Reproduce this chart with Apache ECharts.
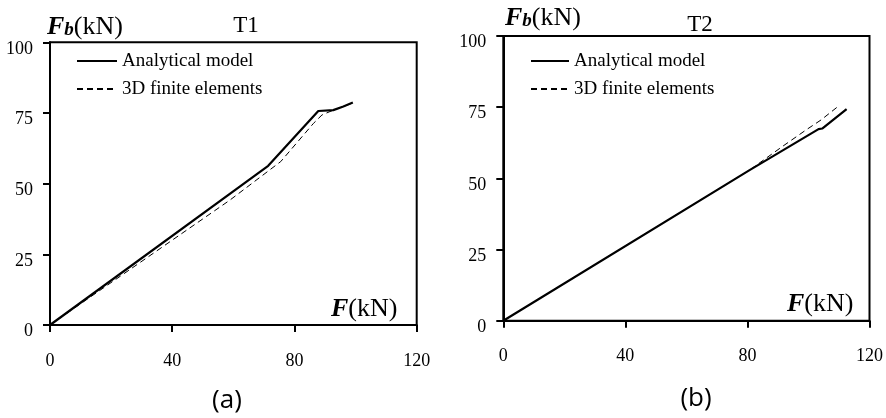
<!DOCTYPE html>
<html>
<head>
<meta charset="utf-8">
<script src="https://cdn.jsdelivr.net/npm/echarts@6/dist/echarts.min.js"></script>
<style>html,body{margin:0;padding:0;background:#fff}#c{width:886px;height:418px}</style>
</head>
<body>
<div id="c"></div>
<script>
// ---- data ----
const xTicks = [0, 40, 80, 120];
const yTicks = [0, 25, 50, 75, 100];
const seriesNames = ['Analytical model', '3D finite elements'];
// (a) T1
const t1AnalyticalF  = [0, 71.4, 87.8, 92.7, 96.0, 99.1];
const t1AnalyticalFb = [0, 56.3, 75.7, 76.0, 77.3, 78.7];
const t1FEMF  = [0, 58.9, 75.5, 86.2, 89.0, 92.7, 98.8];
const t1FEMFb = [0, 44.2, 57.8, 71.3, 74.3, 76.0, 78.4];
// (b) T2
const t2AnalyticalF  = [0, 80.7, 103.3, 104.5, 112.5];
const t2AnalyticalFb = [0, 52.9, 67.3, 67.5, 74.3];
const t2FEMF  = [0, 80.7, 91.6, 99.2, 104.1, 109.4];
const t2FEMFb = [0, 52.9, 61.3, 67.0, 70.5, 75.0];
const panelTitles = ['T1', 'T2'];
const panelLabels = ['(a)', '(b)'];

const zip = (a, b) => a.map((v, i) => [v, b[i]]);
const SERIF = 'Liberation Serif';

function xAxis(gi) {
  return {
    type: 'value', gridIndex: gi, min: xTicks[0], max: xTicks[xTicks.length - 1], interval: 40,
    axisLine: { show: true, onZero: false, lineStyle: { color: '#000', width: 2 } },
    axisTick: { show: true, length: 7, lineStyle: { color: '#000', width: 2 } },
    axisLabel: { color: '#000', fontFamily: SERIF, fontSize: 18, margin: 27 },
    splitLine: { show: false }
  };
}
function yAxis(gi) {
  return {
    type: 'value', gridIndex: gi, min: yTicks[0], max: yTicks[yTicks.length - 1], interval: 25,
    axisLine: { show: true, onZero: false, lineStyle: { color: '#000', width: 2 } },
    axisTick: { show: true, length: 7, lineStyle: { color: '#000', width: 2 } },
    axisLabel: { color: '#000', fontFamily: SERIF, fontSize: 18, margin: 17, verticalAlign: 'top', lineHeight: 13 },
    splitLine: { show: false }
  };
}
const solid = { color: '#000', width: 2.2, type: 'solid' };
const dashed = { color: '#000', width: 1, type: [6, 4] };
function line(name, data, gi, style) {
  return { name, type: 'line', xAxisIndex: gi, yAxisIndex: gi, data, symbol: 'none',
    lineStyle: style, itemStyle: { color: '#000' }, animation: false, z: 3 };
}
function legend(left, w) {
  return {
    left, top: 51, orient: 'vertical', itemWidth: w, itemHeight: 14, itemGap: 8, padding: 0,
    data: seriesNames,
    itemStyle: { opacity: 0 },
    textStyle: { color: '#000', fontFamily: SERIF, fontSize: 19, lineHeight: 20 },
    selectedMode: false
  };
}
function fbLabel(x, y) {
  return { type: 'text', left: x, top: y, style: {
    text: '{F|F}{b|b}{k|(kN)}', fill: '#000',
    rich: {
      F: { fontFamily: SERIF, fontSize: 26, fontWeight: 'bold', fontStyle: 'italic', lineHeight: 28, verticalAlign: 'bottom' },
      b: { fontFamily: SERIF, fontSize: 19, fontWeight: 'bold', fontStyle: 'italic', lineHeight: 19, verticalAlign: 'bottom' },
      k: { fontFamily: SERIF, fontSize: 26, lineHeight: 28, verticalAlign: 'bottom' }
    } } };
}
function fLabel(x, y) {
  return { type: 'text', left: x, top: y, style: {
    text: '{F|F}{k|(kN)}', fill: '#000',
    rich: {
      F: { fontFamily: SERIF, fontSize: 26, fontWeight: 'bold', fontStyle: 'italic', lineHeight: 28 },
      k: { fontFamily: SERIF, fontSize: 26, lineHeight: 28 }
    } } };
}
function centerText(text, x, y, size, family) {
  return { type: 'text', x, y, style: { text, fill: '#000', fontFamily: family, fontSize: size, align: 'center', verticalAlign: 'middle' } };
}

const chart = echarts.init(document.getElementById('c'), null, { renderer: 'canvas' });
chart.setOption({
  animation: false,
  backgroundColor: '#fff',
  grid: [
    { left: 50, right: 469.3, top: 42.3, bottom: 93, show: true, borderColor: '#000', borderWidth: 2, backgroundColor: 'transparent' },
    { left: 503.3, right: 15.3, top: 36, bottom: 97.3, show: true, borderColor: '#000', borderWidth: 2, backgroundColor: 'transparent' }
  ],
  xAxis: [xAxis(0), xAxis(1)],
  yAxis: [yAxis(0), yAxis(1)],
  legend: [legend(76, 40), legend(530, 38)],
  series: [
    line(seriesNames[0], zip(t1AnalyticalF, t1AnalyticalFb), 0, solid),
    line(seriesNames[1], zip(t1FEMF, t1FEMFb), 0, dashed),
    line(seriesNames[0], zip(t2AnalyticalF, t2AnalyticalFb), 1, solid),
    line(seriesNames[1], zip(t2FEMF, t2FEMFb), 1, dashed)
  ],
  graphic: [
    fbLabel(47, 14),
    fbLabel(505, 5),
    fLabel(331, 296),
    fLabel(787, 291),
    centerText(panelTitles[0], 246, 26, 23, SERIF),
    centerText(panelTitles[1], 700, 25, 23, SERIF),
    centerText(panelLabels[0], 227, 401, 26, 'Open Sans'),
    centerText(panelLabels[1], 696, 399, 26, 'Open Sans')
  ]
});
</script>
</body>
</html>
